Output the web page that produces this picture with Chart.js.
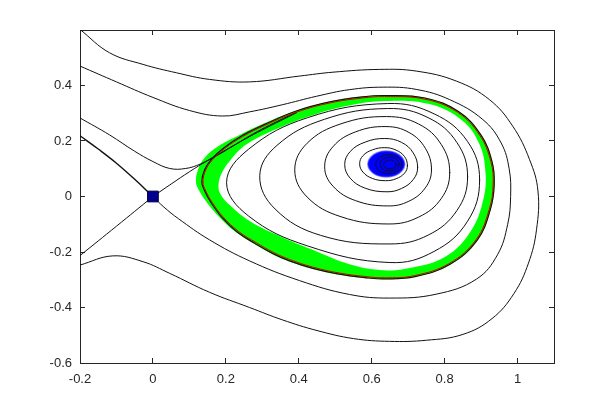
<!DOCTYPE html>
<html><head><meta charset="utf-8">
<script src="https://cdn.jsdelivr.net/npm/chart.js@4/dist/chart.umd.min.js"></script>
<style>html,body{margin:0;padding:0;background:#fff;}#wrap{width:613px;height:408px;}</style>
</head><body><div id="wrap"><canvas id="c" width="613" height="408"></canvas></div>
<script>
const xTickValues = [-0.2, 0, 0.2, 0.4, 0.6, 0.8, 1];
const xTickLabels = ['-0.2', '0', '0.2', '0.4', '0.6', '0.8', '1'];
const yTickValues = [-0.6, -0.4, -0.2, 0, 0.2, 0.4];
const yTickLabels = ['-0.6', '-0.4', '-0.2', '0', '0.2', '0.4'];
const xRange = [-0.2, 1.1];
const yRange = [-0.6, 0.6];

const curveA = [[-0.2,0.602],[-0.119,0.518],[-0.027,0.476],[0.064,0.446],[0.155,0.422],[0.265,0.413],[0.402,0.434],[0.494,0.448],[0.622,0.458],[0.722,0.452],[0.832,0.416],[0.923,0.349],[0.987,0.253],[1.033,0.133],[1.056,0.02],[1.052,-0.12],[1.03,-0.24],[0.99,-0.35],[0.93,-0.44],[0.85,-0.497],[0.75,-0.518],[0.649,-0.522],[0.55,-0.512],[0.45,-0.483],[0.356,-0.445],[0.265,-0.400],[0.155,-0.345],[0.046,-0.277],[-0.027,-0.235],[-0.11,-0.214],[-0.2,-0.247]];
const curveB = [[-0.2,0.470],[-0.1,0.413],[0.0,0.357],[0.1,0.310],[0.19,0.290],[0.265,0.305],[0.356,0.331],[0.448,0.361],[0.539,0.385],[0.631,0.394],[0.722,0.386],[0.814,0.349],[0.905,0.277],[0.955,0.193],[0.977,0.10],[0.981,0.0],[0.973,-0.1],[0.945,-0.21],[0.887,-0.298],[0.777,-0.352],[0.649,-0.366],[0.539,-0.353],[0.402,-0.303],[0.265,-0.232],[0.155,-0.156],[0.07,-0.08],[0.03,-0.038],[0,0]];
const curveC = [[-0.2,0.283],[-0.119,0.222],[-0.05,0.163],[0.0,0.126],[0.046,0.101],[0.09,0.101],[0.13,0.117],[0.175,0.147],[0.225,0.186],[0.27,0.222],[0.32,0.257],[0.394,0.304]];
const curveD = [[0,0],[0.05,0.045],[0.1,0.089],[0.15,0.13],[0.2,0.168],[0.25,0.205],[0.3,0.24],[0.35,0.273],[0.394,0.302]];
const curveE = [[-0.2,0.219],[-0.15,0.171],[-0.1,0.120],[-0.05,0.062],[0,0]];
const curveF = [[-0.2,-0.213],[-0.1,-0.107],[0,0]];
const saddlePoint = [[0,0]];

const orbit1 = [[0.698,0.111],[0.690,0.144],[0.667,0.167],[0.636,0.176],[0.602,0.168],[0.576,0.147],[0.567,0.118],[0.576,0.088],[0.602,0.065],[0.638,0.057],[0.667,0.064],[0.690,0.084]];
const orbit2 = [[0.726,0.104],[0.714,0.157],[0.682,0.195],[0.636,0.209],[0.582,0.196],[0.541,0.162],[0.526,0.115],[0.541,0.066],[0.582,0.030],[0.642,0.017],[0.682,0.029],[0.714,0.061]];
const orbit3 = [[0.764,0.096],[0.747,0.174],[0.702,0.231],[0.639,0.252],[0.556,0.233],[0.494,0.180],[0.471,0.107],[0.494,0.037],[0.556,-0.015],[0.644,-0.034],[0.702,-0.017],[0.747,0.031]];
const orbit4 = [[0.814,0.086],[0.791,0.187],[0.729,0.261],[0.641,0.288],[0.516,0.262],[0.423,0.192],[0.389,0.096],[0.423,-0.002],[0.516,-0.073],[0.647,-0.099],[0.729,-0.074],[0.791,-0.007]];
const orbit5 = [[0.863,0.071],[0.834,0.194],[0.755,0.284],[0.644,0.317],[0.470,0.278],[0.340,0.184],[0.293,0.075],[0.335,-0.045],[0.460,-0.140],[0.650,-0.171],[0.755,-0.139],[0.834,-0.050]];
const orbit6 = [[0.896,0.060],[0.863,0.198],[0.771,0.298],[0.644,0.335],[0.424,0.284],[0.262,0.170],[0.202,0.050],[0.262,-0.070],[0.424,-0.178],[0.650,-0.238],[0.771,-0.198],[0.863,-0.089]];

const redLoop = [[0.137,0.052],[0.145,0.096],[0.164,0.133],[0.197,0.173],[0.246,0.216],[0.306,0.256],[0.394,0.304],[0.485,0.337],[0.575,0.355],[0.635,0.360],[0.745,0.351],[0.835,0.304],[0.896,0.221],[0.927,0.125],[0.933,0.042],[0.922,-0.048],[0.886,-0.156],[0.813,-0.241],[0.718,-0.285],[0.635,-0.293],[0.580,-0.288],[0.512,-0.276],[0.440,-0.255],[0.375,-0.227],[0.330,-0.201],[0.283,-0.166],[0.235,-0.126],[0.192,-0.073],[0.163,-0.022],[0.145,0.020]];
const blackLoop = [[0.134,0.052],[0.142,0.097],[0.161,0.135],[0.195,0.176],[0.244,0.219],[0.305,0.259],[0.393,0.308],[0.485,0.341],[0.575,0.359],[0.635,0.364],[0.746,0.355],[0.837,0.307],[0.899,0.223],[0.930,0.126],[0.936,0.042],[0.925,-0.049],[0.889,-0.158],[0.815,-0.244],[0.719,-0.289],[0.635,-0.297],[0.580,-0.292],[0.511,-0.280],[0.439,-0.259],[0.373,-0.231],[0.328,-0.205],[0.281,-0.170],[0.232,-0.129],[0.189,-0.075],[0.160,-0.023],[0.142,0.020]];
const greenOuter = [[0.118,0.052],[0.124,0.098],[0.142,0.140],[0.180,0.182],[0.238,0.222],[0.301,0.261],[0.393,0.309],[0.485,0.342],[0.575,0.360],[0.635,0.365],[0.746,0.356],[0.837,0.308],[0.899,0.224],[0.931,0.126],[0.937,0.042],[0.926,-0.049],[0.890,-0.159],[0.816,-0.245],[0.719,-0.290],[0.635,-0.298],[0.580,-0.294],[0.511,-0.282],[0.438,-0.261],[0.372,-0.233],[0.327,-0.207],[0.280,-0.172],[0.230,-0.131],[0.185,-0.078],[0.150,-0.025],[0.125,0.025]];
const greenInner = [[0.180,0.043],[0.188,0.082],[0.212,0.130],[0.257,0.188],[0.347,0.248],[0.438,0.293],[0.531,0.326],[0.635,0.344],[0.758,0.333],[0.848,0.274],[0.895,0.190],[0.912,0.089],[0.906,-0.012],[0.872,-0.124],[0.803,-0.216],[0.704,-0.258],[0.635,-0.266],[0.539,-0.244],[0.438,-0.192],[0.347,-0.142],[0.265,-0.088],[0.210,-0.030],[0.184,0.012]];

const blob = [[0.690,0.117],[0.683,0.140],[0.665,0.157],[0.640,0.163],[0.615,0.157],[0.597,0.140],[0.590,0.117],[0.597,0.094],[0.615,0.077],[0.640,0.071],[0.665,0.077],[0.683,0.094]];
const ring1 = [[0.683,0.116],[0.678,0.133],[0.665,0.145],[0.647,0.150],[0.629,0.145],[0.616,0.133],[0.611,0.116],[0.616,0.099],[0.629,0.087],[0.647,0.082],[0.665,0.087],[0.678,0.099]];
const ring2 = [[0.675,0.116],[0.672,0.1285],[0.662,0.138],[0.649,0.141],[0.636,0.138],[0.626,0.1285],[0.623,0.116],[0.626,0.1035],[0.636,0.094],[0.649,0.091],[0.662,0.094],[0.672,0.1035]];
const ring3 = [[0.667,0.115],[0.665,0.123],[0.6585,0.129],[0.650,0.131],[0.6415,0.129],[0.635,0.123],[0.633,0.115],[0.635,0.107],[0.6415,0.101],[0.650,0.099],[0.6585,0.101],[0.665,0.107]];

function pts(arr) { return arr.map(p => ({x: p[0], y: p[1]})); }
function curve(arr, color, width, order, extra) {
  return Object.assign({data: pts(arr), borderColor: color, borderWidth: width, pointRadius: 0, pointHoverRadius: 0,
    fill: false, tension: 0.4, order: order, borderJoinStyle: 'round', borderCapStyle: 'round'}, extra || {});
}
function loop(arr, color, width, order, extra) {
  return Object.assign(curve(arr, color, width, order, extra), {closedLoop: true});
}
// closed datasets are drawn as closed smooth splines (the mechanism radar charts use)
const closeLoops = {
  id: 'closeLoops',
  afterDatasetsUpdate(chart) {
    chart.data.datasets.forEach((ds, i) => {
      if (!ds.closedLoop) return;
      const line = chart.getDatasetMeta(i).dataset;
      if (!line) return;
      line._loop = true;
      line._fullLoop = true;
      line._pointsUpdated = false;
      line._segments = undefined;
      line._path = undefined;
    });
  }
};

const BLACK = '#111111';
const datasets = [
  loop(greenOuter, 'rgba(0,0,0,0)', 0, 20, {fill: 'shape', backgroundColor: '#00ff00'}),
  loop(greenInner, 'rgba(0,0,0,0)', 0, 19, {fill: 'shape', backgroundColor: '#ffffff'}),
  curve(curveA, BLACK, 1, 10),
  curve(curveB, BLACK, 1, 10),
  curve(curveC, BLACK, 1, 10),
  curve(curveD, BLACK, 1, 10),
  curve(curveE, BLACK, 1.4, 10),
  curve(curveF, BLACK, 1, 10),
  loop(orbit1, BLACK, 1, 6),
  loop(orbit2, BLACK, 1, 6),
  loop(orbit3, BLACK, 1, 6),
  loop(orbit4, BLACK, 1, 6),
  loop(orbit5, BLACK, 1, 6),
  loop(orbit6, BLACK, 1, 6),
  loop(blackLoop, BLACK, 1.2, 5),
  loop(redLoop, '#d00000', 1, 4),
  loop(blob, 'rgba(30,30,255,0.55)', 2, 3, {fill: 'shape', backgroundColor: '#0000ff'}),
  loop(ring1, BLACK, 0.9, 2),
  loop(ring2, BLACK, 0.9, 2),
  loop(ring3, BLACK, 0.9, 2),
  {data: pts(saddlePoint), showLine: false, pointStyle: 'rect', pointRadius: 7.6, pointHoverRadius: 7.6,
   pointBackgroundColor: '#000090', pointBorderColor: '#000040', pointBorderWidth: 1, order: 0}
];

const AX = '#262626';
const FONT = {family: 'Liberation Sans, Arial, sans-serif', size: 13};
function xAxis(pos, show) {
  return {
    type: 'linear', position: pos, min: xRange[0], max: xRange[1],
    afterBuildTicks: s => { s.ticks = xTickValues.map(v => ({value: v})); },
    afterFit: s => { s.height = show ? 45 : 0; },
    ticks: {display: show, autoSkip: false, maxRotation: 0, color: AX, font: FONT, padding: 14,
      callback: v => xTickLabels[xTickValues.indexOf(v)]},
    grid: {drawOnChartArea: false, drawTicks: true, tickLength: -5, color: AX, lineWidth: 1},
    border: {display: true, color: AX, width: 1}
  };
}
function yAxis(pos, show) {
  return {
    type: 'linear', position: pos, min: yRange[0], max: yRange[1],
    afterBuildTicks: s => { s.ticks = yTickValues.map(v => ({value: v})); },
    afterFit: s => { s.width = show ? 80 : 0; },
    ticks: {display: show, autoSkip: false, color: AX, font: FONT, padding: 13,
      callback: v => yTickLabels[yTickValues.indexOf(v)]},
    grid: {drawOnChartArea: false, drawTicks: true, tickLength: -5, color: AX, lineWidth: 1},
    border: {display: true, color: AX, width: 1}
  };
}

new Chart(document.getElementById('c'), {
  type: 'line',
  data: {datasets: datasets},
  plugins: [closeLoops],
  options: {
    responsive: false, animation: false, events: [],
    layout: {padding: {left: 0, right: 59, top: 30, bottom: 0}},
    plugins: {legend: {display: false}, tooltip: {enabled: false}},
    scales: {x: xAxis('bottom', true), x2: xAxis('top', false), y: yAxis('left', true), y2: yAxis('right', false)}
  }
});
</script></body></html>
